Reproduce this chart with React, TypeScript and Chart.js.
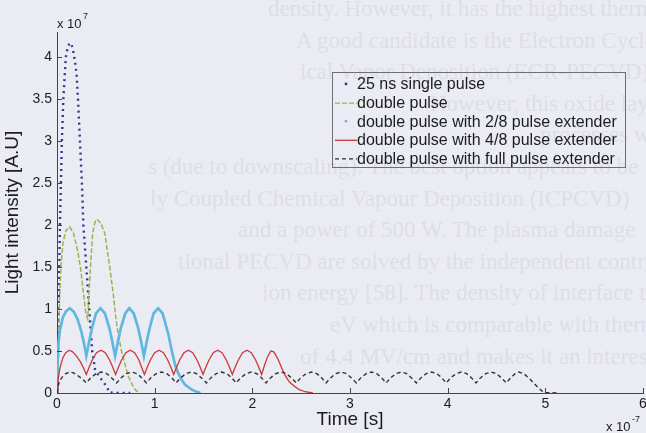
import React, { useEffect, useRef } from "react";
import { Chart, registerables } from "chart.js";

Chart.register(...registerables);

// ---------- data (time in 1e-7 s, intensity in 1e7 A.U.) ----------
const xTickValues = [0, 1, 2, 3, 4, 5, 6];
const yTickValues = [0, 0.5, 1, 1.5, 2, 2.5, 3, 3.5, 4];

const seriesLabels = [
  "25 ns single pulse",
  "double pulse",
  "double pulse with 2/8 pulse extender",
  "double pulse with 4/8 pulse extender",
  "double pulse with full pulse extender",
];

const singleT = [0, 0.01, 0.02, 0.03, 0.05, 0.065, 0.09, 0.11, 0.13, 0.15, 0.17, 0.19, 0.2, 0.215, 0.235, 0.255, 0.27, 0.3, 0.33, 0.36, 0.39, 0.43, 0.47, 0.5, 0.52, 0.53, 0.6, 0.75];
const singleY = [0, 0.5, 1.2, 2.0, 3.0, 3.5, 4.0, 4.12, 4.17, 4.15, 4.05, 3.9, 3.8, 3.5, 3.0, 2.5, 2.0, 1.5, 1.0, 0.5, 0.28, 0.2, 0.14, 0.09, 0.05, 0.01, 0, 0];

const doubleT = [0, 0.015, 0.025, 0.04, 0.06, 0.09, 0.13, 0.17, 0.21, 0.24, 0.27, 0.295, 0.315, 0.325, 0.345, 0.365, 0.39, 0.41, 0.45, 0.49, 0.54, 0.58, 0.6, 0.62, 0.66, 0.69, 0.73, 0.77, 0.8, 0.83];
const doubleY = [0, 0.4, 1.1, 1.5, 1.78, 1.93, 1.98, 1.9, 1.7, 1.5, 1.2, 0.95, 0.88, 1.14, 1.55, 1.9, 2.04, 2.07, 2.02, 1.9, 1.5, 1.14, 0.92, 0.75, 0.5, 0.37, 0.2, 0.1, 0.04, 0.01];

const ext28T = [0, 0.005, 0.015, 0.03, 0.06, 0.09, 0.13, 0.17, 0.21, 0.245, 0.275, 0.3, 0.33, 0.36, 0.4, 0.445, 0.49, 0.535, 0.565, 0.595, 0.625, 0.655, 0.7, 0.74, 0.785, 0.83, 0.86, 0.89, 0.92, 0.95, 0.99, 1.035, 1.08, 1.1, 1.14, 1.18, 1.21, 1.24, 1.28, 1.31, 1.38, 1.44, 1.47];
const ext28Y = [0, 0.35, 0.6, 0.75, 0.9, 0.97, 1.01, 0.97, 0.88, 0.75, 0.6, 0.44, 0.62, 0.78, 0.95, 1.01, 0.95, 0.78, 0.62, 0.44, 0.62, 0.78, 0.95, 1.01, 0.95, 0.78, 0.62, 0.44, 0.62, 0.78, 0.95, 1.01, 0.95, 0.87, 0.7, 0.48, 0.33, 0.24, 0.15, 0.1, 0.04, 0.01, 0];

const ext48T = [
  0, 0.01, 0.03, 0.06, 0.09, 0.125, 0.16, 0.2, 0.24, 0.27,
  0.3, 0.33, 0.36, 0.405, 0.45, 0.495, 0.54, 0.57,
  0.6, 0.63, 0.66, 0.705, 0.75, 0.795, 0.84, 0.865,
  0.895, 0.925, 0.955, 1.0, 1.045, 1.09, 1.135, 1.165,
  1.195, 1.225, 1.255, 1.3, 1.345, 1.39, 1.435, 1.465,
  1.495, 1.525, 1.555, 1.6, 1.645, 1.69, 1.735, 1.765,
  1.795, 1.825, 1.855, 1.9, 1.945, 1.99, 2.035, 2.065,
  2.095, 2.125, 2.155, 2.19, 2.22, 2.26, 2.3, 2.34, 2.38, 2.43, 2.48, 2.54, 2.62,
];
const ext48Y = [
  0, 0.15, 0.3, 0.42, 0.48, 0.51, 0.49, 0.44, 0.37, 0.3,
  0.22, 0.31, 0.39, 0.48, 0.51, 0.48, 0.39, 0.31,
  0.22, 0.31, 0.39, 0.48, 0.51, 0.48, 0.39, 0.31,
  0.22, 0.31, 0.39, 0.48, 0.51, 0.48, 0.39, 0.31,
  0.22, 0.31, 0.39, 0.48, 0.51, 0.48, 0.39, 0.31,
  0.22, 0.31, 0.39, 0.48, 0.51, 0.48, 0.39, 0.31,
  0.22, 0.31, 0.39, 0.48, 0.51, 0.48, 0.39, 0.31,
  0.22, 0.33, 0.43, 0.5, 0.49, 0.41, 0.3, 0.2, 0.13, 0.08, 0.04, 0.015, 0,
];

const fullT = [
  0, 0.01, 0.03, 0.06, 0.09, 0.13, 0.17, 0.21, 0.255,
  0.3, 0.345, 0.4, 0.455, 0.51, 0.56,
  0.61, 0.655, 0.71, 0.765, 0.82, 0.87,
  0.915, 0.96, 1.015, 1.07, 1.125, 1.175,
  1.22, 1.265, 1.32, 1.375, 1.43, 1.48,
  1.53, 1.575, 1.63, 1.685, 1.74, 1.79,
  1.835, 1.88, 1.935, 1.99, 2.045, 2.095,
  2.14, 2.185, 2.24, 2.295, 2.35, 2.4,
  2.45, 2.495, 2.55, 2.605, 2.66, 2.71,
  2.755, 2.8, 2.855, 2.91, 2.965, 3.015,
  3.065, 3.11, 3.165, 3.22, 3.275, 3.325,
  3.37, 3.415, 3.47, 3.525, 3.58, 3.63,
  3.68, 3.725, 3.78, 3.835, 3.89, 3.94,
  3.985, 4.03, 4.085, 4.14, 4.195, 4.245,
  4.29, 4.335, 4.39, 4.445, 4.5, 4.55,
  4.6, 4.645, 4.69, 4.73, 4.78, 4.83, 4.88, 4.93, 4.97, 5.0, 5.13,
];
const fullY = [
  0, 0.08, 0.15, 0.2, 0.23, 0.25, 0.24, 0.21, 0.17,
  0.12, 0.18, 0.23, 0.25, 0.23, 0.18,
  0.12, 0.18, 0.23, 0.25, 0.23, 0.18,
  0.12, 0.18, 0.23, 0.25, 0.23, 0.18,
  0.12, 0.18, 0.23, 0.25, 0.23, 0.18,
  0.12, 0.18, 0.23, 0.25, 0.23, 0.18,
  0.12, 0.18, 0.23, 0.25, 0.23, 0.18,
  0.12, 0.18, 0.23, 0.25, 0.23, 0.18,
  0.12, 0.18, 0.23, 0.25, 0.23, 0.18,
  0.12, 0.18, 0.23, 0.25, 0.23, 0.18,
  0.12, 0.18, 0.23, 0.25, 0.23, 0.18,
  0.12, 0.18, 0.23, 0.25, 0.23, 0.18,
  0.12, 0.18, 0.23, 0.25, 0.23, 0.18,
  0.12, 0.18, 0.23, 0.25, 0.23, 0.18,
  0.12, 0.18, 0.23, 0.25, 0.23, 0.18,
  0.12, 0.18, 0.23, 0.25, 0.23, 0.18, 0.12, 0.06, 0.02, 0.005, 0,
];

// faint text of the scanned page behind the figure
const pageLines = [
  "density.  However, it has the highest thermal budget of",
  "A good candidate is the Electron Cyclotron Resonance",
  "ical Vapor Deposition (ECR-PECVD), which is capable",
  "However, this oxide layer",
  "processes which",
  "s (due to downscaling).  The best option appears to be",
  "ly Coupled Chemical Vapour Deposition (ICPCVD)",
  "and a power of 500 W.  The plasma damage",
  "tional PECVD are solved by the independent control of",
  "ion energy [58].  The density of interface traps is the",
  "eV which is comparable with thermal oxide",
  "of 4.4 MV/cm and makes it an interesting candidate",
];
const pageLineStart = [268, 296, 300, 430, 540, 148, 150, 238, 178, 262, 330, 300];

// ---------- styles ----------
const BG = "#ebecf3";
const PAGE_TEXT = "#dddee7";
const AXIS = "#444444";
const TEXT = "#1c1c1c";
const FONT = "'Liberation Sans', Arial, Helvetica, sans-serif";

const seriesStyle = [
  { color: "#2d3a8c", width: 2.4, dash: [2, 4], legend: "dot" },
  { color: "#9ab451", width: 1.5, dash: [5, 2], legend: "line" },
  { color: "#62b7e0", width: 2.7, dash: [] as number[], legend: "dot" },
  { color: "#c8383d", width: 1.3, dash: [] as number[], legend: "line" },
  { color: "#333333", width: 1.4, dash: [4, 3], legend: "line" },
];

const seriesT = [singleT, doubleT, ext28T, ext48T, fullT];
const seriesY = [singleY, doubleY, ext28Y, ext48Y, fullY];

const extrasPlugin = {
  id: "extras",
  afterDraw(chart: any) {
    const { ctx, chartArea, scales } = chart;
    const xs = scales.x;
    const ys = scales.y;
    ctx.save();
    // inward ticks
    ctx.strokeStyle = AXIS;
    ctx.lineWidth = 1;
    ctx.beginPath();
    for (const v of xTickValues) {
      const px = Math.round(xs.getPixelForValue(v)) + 0.5;
      ctx.moveTo(px, chartArea.bottom);
      ctx.lineTo(px, chartArea.bottom - 5);
    }
    for (const v of yTickValues) {
      const py = Math.round(ys.getPixelForValue(v)) + 0.5;
      ctx.moveTo(chartArea.left, py);
      ctx.lineTo(chartArea.left + 5, py);
    }
    ctx.stroke();

    // exponent labels
    ctx.fillStyle = TEXT;
    ctx.textBaseline = "alphabetic";
    ctx.textAlign = "left";
    ctx.font = `13px ${FONT}`;
    ctx.fillText("x 10", chartArea.left, 28);
    const w1 = ctx.measureText("x 10").width;
    ctx.font = `9px ${FONT}`;
    ctx.fillText("7", chartArea.left + w1 + 1.5, 19);

    ctx.font = `13px ${FONT}`;
    const bx = 606;
    ctx.fillText("x 10", bx, 431);
    const w2 = ctx.measureText("x 10").width;
    ctx.font = `9px ${FONT}`;
    ctx.fillText("-7", bx + w2 + 1.5, 422);

    // legend
    const lx = 332.5, ly = 72.5, lw = 293, lh = 95;
    ctx.strokeStyle = "#6f6f6f";
    ctx.lineWidth = 1;
    ctx.setLineDash([]);
    ctx.strokeRect(lx, ly, lw, lh);
    ctx.font = `16px ${FONT}`;
    ctx.textBaseline = "middle";
    for (let i = 0; i < seriesLabels.length; i++) {
      const st = seriesStyle[i];
      const cy = 84 + i * 18.6;
      if (st.legend === "dot") {
        ctx.fillStyle = st.color;
        ctx.beginPath();
        ctx.arc(346, cy, 1.4, 0, Math.PI * 2);
        ctx.fill();
      } else {
        ctx.strokeStyle = st.color;
        ctx.lineWidth = Math.min(st.width, 1.4);
        ctx.setLineDash(st.dash);
        ctx.beginPath();
        ctx.moveTo(335, cy + 0.5);
        ctx.lineTo(357, cy + 0.5);
        ctx.stroke();
        ctx.setLineDash([]);
      }
      ctx.fillStyle = TEXT;
      ctx.fillText(seriesLabels[i], 357, cy + 1);
    }
    ctx.restore();
  },
};

export default function App() {
  const ref = useRef<HTMLCanvasElement | null>(null);

  useEffect(() => {
    document.body.style.margin = "0";
    const canvas = ref.current;
    if (!canvas) return;
    const datasets = seriesLabels.map((label, i) => ({
      label,
      data: seriesT[i].map((t, j) => ({ x: t, y: seriesY[i][j] })),
      borderColor: seriesStyle[i].color,
      backgroundColor: seriesStyle[i].color,
      borderWidth: seriesStyle[i].width,
      borderDash: seriesStyle[i].dash,
      pointRadius: 0,
      tension: 0,
      fill: false,
      order: 5 - i,
    }));
    const chart = new Chart(canvas, {
      type: "line",
      data: { datasets },
      plugins: [extrasPlugin],
      options: {
        animation: false,
        responsive: false,
        devicePixelRatio: 1,
        events: [],
        layout: { padding: { top: 32, right: 3, left: 0, bottom: 0 } },
        plugins: { legend: { display: false }, tooltip: { enabled: false } },
        scales: {
          x: {
            type: "linear",
            min: 0,
            max: 6,
            afterBuildTicks: (s: any) => {
              s.ticks = xTickValues.map((v) => ({ value: v }));
            },
            afterFit: (s: any) => {
              s.height = 40;
              s.paddingLeft = 0;
              s.paddingRight = 0;
            },
            grid: { display: false, drawTicks: false },
            border: { display: true, color: AXIS, width: 1 },
            ticks: {
              padding: 3,
              color: TEXT,
              font: { family: FONT, size: 14 },
              maxRotation: 0,
              autoSkip: false,
              callback: (v: any) => String(v),
            },
            title: {
              display: true,
              text: "Time [s]",
              color: TEXT,
              font: { family: FONT, size: 19 },
              padding: { top: 0, bottom: 2 },
            },
          },
          y: {
            type: "linear",
            min: 0,
            max: 4.3,
            afterBuildTicks: (s: any) => {
              s.ticks = yTickValues.map((v) => ({ value: v }));
            },
            afterFit: (s: any) => {
              s.width = 57;
              s.paddingTop = 0;
              s.paddingBottom = 0;
            },
            grid: { display: false, drawTicks: false },
            border: { display: true, color: AXIS, width: 1 },
            ticks: {
              padding: 5,
              color: TEXT,
              font: { family: FONT, size: 14 },
              autoSkip: false,
              callback: (v: any) => String(v),
            },
            title: {
              display: true,
              text: "Light intensity [A.U]",
              color: TEXT,
              font: { family: FONT, size: 19 },
              padding: { top: 1, bottom: 0 },
            },
          },
        },
      } as any,
    });
    return () => chart.destroy();
  }, []);

  return (
    <div style={{ width: 646, height: 433, background: BG, position: "relative", overflow: "hidden" }}>
      {pageLines.map((line, i) => (
        <div
          key={i}
          style={{
            position: "absolute",
            left: pageLineStart[i],
            top: 16 + i * 31.6 - 19,
            font: "23px 'Liberation Serif', 'DejaVu Serif', serif",
            color: PAGE_TEXT,
            whiteSpace: "nowrap",
            lineHeight: "24px",
          }}
        >
          {line}
        </div>
      ))}
      <canvas
        ref={ref}
        width={646}
        height={433}
        style={{ display: "block", width: 646, height: 433, position: "absolute", left: 0, top: 0 }}
      />
    </div>
  );
}
